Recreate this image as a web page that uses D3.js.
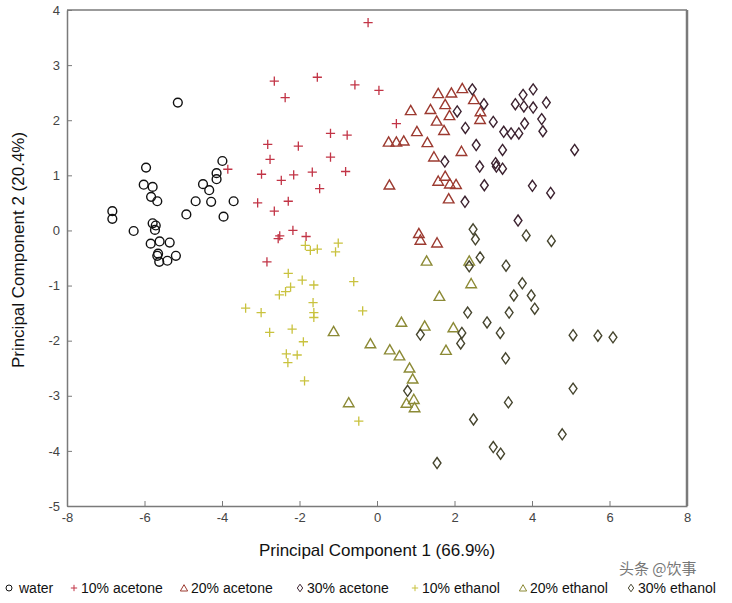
<!DOCTYPE html>
<html><head><meta charset="utf-8">
<script src="https://cdn.jsdelivr.net/npm/d3@7"></script>
<style>body{margin:0;background:#fff}svg{display:block;font-family:"Liberation Sans",Arial,sans-serif}</style>
</head><body><svg id="c" width="732" height="603"></svg>
<script>
const xTicks=[-8,-6,-4,-2,0,2,4,6,8];
const yTicks=[-5,-4,-3,-2,-1,0,1,2,3,4];
const seriesNames=["water","10% acetone","20% acetone","30% acetone","10% ethanol","20% ethanol","30% ethanol"];
const water=[[-5.14,2.32],[-3.99,1.26],[-4.14,1.04],[-4.14,0.93],[-5.96,1.14],[-4.49,0.84],[-6.02,0.83],[-5.79,0.79],[-4.33,0.73],[-5.83,0.61],[-5.67,0.53],[-4.68,0.53],[-4.28,0.52],[-3.70,0.53],[-6.83,0.35],[-6.83,0.21],[-4.92,0.29],[-3.96,0.25],[-6.28,-0.01],[-5.79,0.13],[-5.71,0.09],[-5.73,0.01],[-5.84,-0.24],[-5.61,-0.20],[-5.35,-0.22],[-5.65,-0.42],[-5.67,-0.46],[-5.19,-0.46],[-5.41,-0.55],[-5.62,-0.57]];
const acetone10=[[-0.23,3.77],[-2.65,2.71],[-1.54,2.78],[-0.57,2.64],[0.05,2.54],[-2.37,2.41],[0.50,1.94],[-1.20,1.76],[-0.77,1.73],[-2.82,1.56],[-2.03,1.53],[-2.76,1.29],[-1.20,1.33],[-2.98,1.02],[-2.47,0.91],[-2.15,1.01],[-1.67,1.06],[-0.81,1.07],[-1.48,0.76],[-3.08,0.50],[-2.29,0.53],[-2.65,0.35],[-2.17,0.00],[-2.51,-0.10],[-2.55,-0.15],[-1.83,-0.11],[-3.85,1.11],[-2.84,-0.57]];
const acetone20=[[1.58,2.49],[1.92,2.50],[2.20,2.58],[2.50,2.38],[0.87,2.18],[1.38,2.20],[1.76,2.29],[2.67,2.16],[1.87,2.09],[1.54,1.99],[2.66,2.02],[1.73,1.82],[1.03,1.80],[0.30,1.61],[0.50,1.61],[0.69,1.63],[1.30,1.60],[2.18,1.44],[1.47,1.34],[0.32,0.83],[1.58,0.90],[1.76,0.99],[1.88,0.85],[2.04,0.84],[1.85,0.58],[1.08,-0.05],[1.12,-0.17],[1.55,-0.22]];
const acetone30=[[2.46,2.56],[2.76,2.29],[2.07,2.16],[3.00,1.97],[2.28,1.86],[3.27,1.79],[3.46,1.76],[3.66,1.76],[3.81,1.94],[3.57,2.29],[3.77,2.46],[4.03,2.56],[3.79,2.25],[4.03,2.23],[4.37,2.32],[4.25,2.02],[4.28,1.80],[5.10,1.46],[2.56,1.55],[3.24,1.46],[1.75,1.25],[2.65,1.16],[3.06,1.22],[3.08,1.16],[3.24,1.12],[2.77,0.82],[4.01,0.81],[4.48,0.68],[2.27,0.52],[3.64,0.18]];
const ethanol10=[[-1.85,-0.27],[-1.54,-0.34],[-1.72,-0.36],[-1.00,-0.23],[-1.07,-0.39],[-2.29,-0.78],[-1.93,-0.90],[-1.63,-0.99],[-2.23,-1.03],[-2.36,-1.11],[-2.52,-1.17],[-0.60,-0.93],[-3.39,-1.41],[-2.99,-1.49],[-1.65,-1.31],[-1.63,-1.49],[-1.63,-1.58],[-0.37,-1.46],[-2.77,-1.85],[-2.19,-1.79],[-1.90,-2.02],[-2.34,-2.24],[-2.06,-2.26],[-2.30,-2.40],[-1.87,-2.73],[-0.47,-3.46]];
const ethanol20=[[1.28,-0.55],[2.38,-0.55],[2.43,-0.96],[1.61,-1.19],[0.63,-1.66],[1.23,-1.73],[1.97,-1.76],[0.33,-2.16],[0.58,-2.27],[1.78,-2.17],[0.84,-2.49],[0.92,-2.69],[0.76,-3.13],[0.95,-3.06],[0.97,-3.21],[-0.73,-3.12],[-1.12,-1.83],[-0.17,-2.05]];
const ethanol30=[[3.85,-0.09],[4.50,-0.19],[2.48,0.02],[2.54,-0.16],[2.66,-0.49],[2.38,-0.65],[3.33,-0.64],[3.75,-0.96],[3.53,-1.18],[3.98,-1.18],[4.07,-1.42],[3.41,-1.49],[2.34,-1.49],[2.84,-1.67],[3.18,-1.86],[2.19,-1.86],[2.16,-2.05],[1.12,-1.89],[5.06,-1.90],[3.32,-2.32],[5.06,-2.87],[3.39,-3.12],[0.79,-2.91],[2.49,-3.43],[4.78,-3.70],[3.00,-3.93],[3.19,-4.05],[1.55,-4.22],[5.70,-1.91],[6.09,-1.94]];
const seriesData=[water,acetone10,acetone20,acetone30,ethanol10,ethanol20,ethanol30];
const seriesColors=["#111111","#c23446","#9c3a30","#3c2230","#c9c23e","#8c8a36","#46452e"];
const seriesShapes=["circle","plus","triangle","diamond","plus","triangle","diamond"];

const svg=d3.select("#c");
const L=67,R=687,T=10,B=506;
const x=d3.scaleLinear().domain([-8,8]).range([L,R]);
const y=d3.scaleLinear().domain([-5,4]).range([B,T]);

const shapes={
  circle:{draw(c,s){const r=Math.sqrt(s);c.moveTo(r,0);c.arc(0,0,r,0,2*Math.PI);}},
  plus:{draw(c,s){const r=Math.sqrt(s);c.moveTo(-r,0);c.lineTo(r,0);c.moveTo(0,-r);c.lineTo(0,r);}},
  triangle:{draw(c,s){const r=Math.sqrt(s);c.moveTo(0,-r*1.05);c.lineTo(r*1.15,r*0.95);c.lineTo(-r*1.15,r*0.95);c.closePath();}},
  diamond:{draw(c,s){const r=Math.sqrt(s);c.moveTo(0,-r*1.2);c.lineTo(r*0.85,0);c.lineTo(0,r*1.2);c.lineTo(-r*0.85,0);c.closePath();}}
};

const fmt=d=>String(d);
// axes
const gx=svg.append("g").attr("transform",`translate(0,${B})`)
  .call(d3.axisBottom(x).tickValues(xTicks).tickFormat(fmt).tickSizeInner(-5).tickSizeOuter(0).tickPadding(7));
const gy=svg.append("g").attr("transform",`translate(${L},0)`)
  .call(d3.axisLeft(y).tickValues(yTicks).tickFormat(fmt).tickSizeInner(-5).tickSizeOuter(0).tickPadding(7));
[gx,gy].forEach(g=>{
  g.select(".domain").attr("stroke","#7a7a7a").attr("stroke-width",1.5);
  g.selectAll(".tick line").attr("stroke","#7a7a7a").attr("stroke-width",1);
  g.selectAll(".tick text").attr("fill","#444").style("font-size","13px").style("font-family","Liberation Sans, Arial, sans-serif");
});
svg.append("line").attr("x1",L).attr("x2",R).attr("y1",T).attr("y2",T).attr("stroke","#7a7a7a").attr("stroke-width",1.5);
svg.append("line").attr("x1",R).attr("x2",R).attr("y1",T).attr("y2",B).attr("stroke","#7a7a7a").attr("stroke-width",2.5);

// points
seriesData.forEach((data,i)=>{
  const sz=seriesShapes[i]==="circle"?4.4:4.6;
  const sym=d3.symbol().type(shapes[seriesShapes[i]]).size(sz*sz);
  svg.append("g").selectAll("path").data(data).join("path")
    .attr("transform",d=>`translate(${x(d[0])},${y(d[1])})`)
    .attr("d",sym).attr("fill","none").attr("stroke",seriesColors[i])
    .attr("stroke-width",seriesShapes[i]==="plus"?1.3:1.4);
});

// axis titles
svg.append("text").attr("x",(L+R)/2).attr("y",556).attr("text-anchor","middle")
  .style("font-size","17px").attr("fill","#111").text("Principal Component 1 (66.9%)");
svg.append("text").attr("transform",`translate(24,250) rotate(-90)`).attr("text-anchor","middle")
  .style("font-size","17px").attr("fill","#111").text("Principal Component 2 (20.4%)");

// legend
const legX=[9,74,184,300,415,523,631];
const lg=svg.append("g");
seriesNames.forEach((n,i)=>{
  const sym=d3.symbol().type(shapes[seriesShapes[i]]).size(seriesShapes[i]==="circle"?9:10);
  lg.append("path").attr("transform",`translate(${legX[i]},588)`).attr("d",sym)
    .attr("fill","none").attr("stroke",seriesColors[i]).attr("stroke-width",1);
  lg.append("text").attr("x",legX[i]+(i===0?10:7)).attr("y",593).style("font-size","14px").attr("fill","#111").text(n);
});

// watermark text
svg.append("text").attr("x",619).attr("y",574).style("font-size","15px")
  .style("font-family","Noto Sans CJK SC, sans-serif").attr("fill","#555").attr("opacity",0.8).text("头条 @饮事");
</script></body></html>
